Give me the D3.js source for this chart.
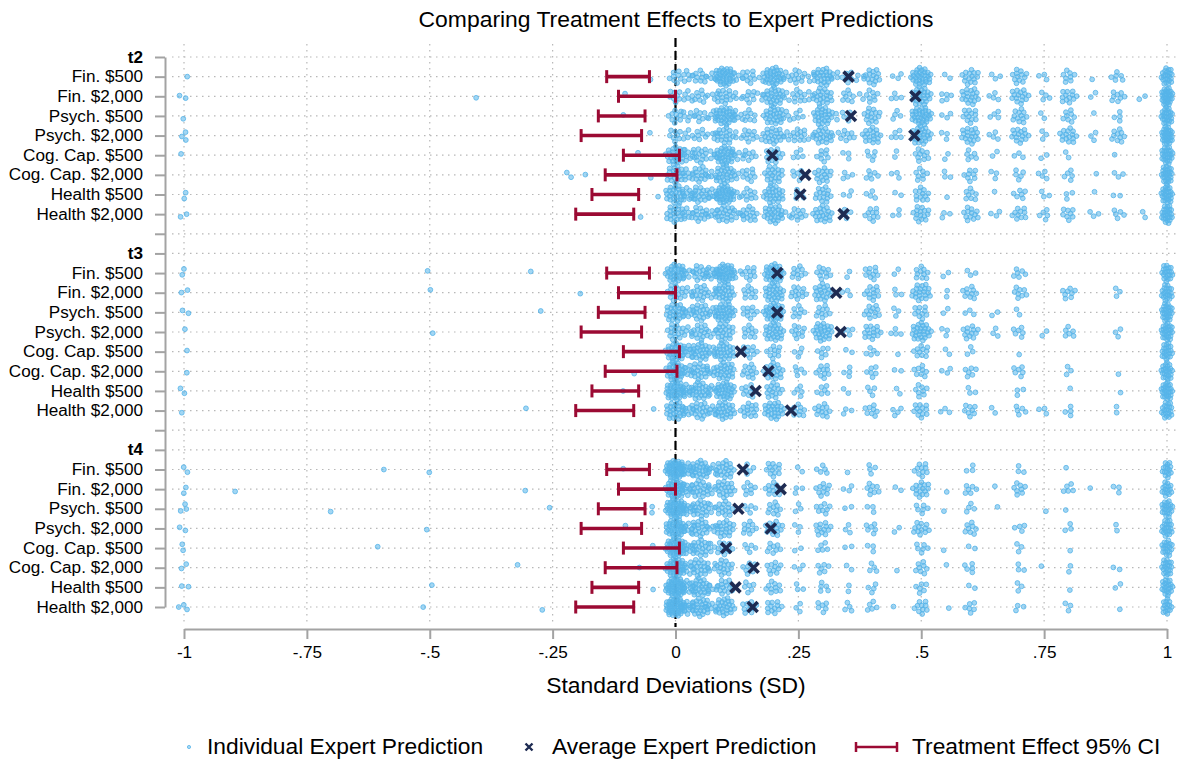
<!DOCTYPE html>
<html>
<head>
<meta charset="utf-8">
<script src="https://cdn.jsdelivr.net/npm/d3@7"></script>
<style>
  body { margin: 0; background: #fff; }
  svg { font-family: "Liberation Sans", Arial, Helvetica, sans-serif; }
</style>
</head>
<body>
<div id="chart"></div>
<script>
// chart size
const width = 1177;
const height = 759;

// row labels for each wave
const panels = ["t2", "t3", "t4"];
const treatments = ["Fin. $500", "Fin. $2,000", "Psych. $500", "Psych. $2,000",
  "Cog. Cap. $500", "Cog. Cap. $2,000", "Health $500", "Health $2,000"];

// treatment effect 95% CI (same for every wave)
const ciLow  = [-0.140, -0.116, -0.157, -0.192, -0.106, -0.143, -0.170, -0.203];
const ciHigh = [-0.053,  0.000, -0.062, -0.069,  0.008,  0.003, -0.075, -0.085];

// average expert prediction, per wave
const avgT2 = [0.352, 0.488, 0.357, 0.486, 0.197, 0.264, 0.254, 0.342];
const avgT3 = [0.207, 0.327, 0.207, 0.336, 0.133, 0.189, 0.163, 0.235];
const avgT4 = [0.137, 0.214, 0.128, 0.194, 0.103, 0.159, 0.122, 0.157];

// individual predictions: [value, number of experts] per row
const predT2 = [
  [[-1,1],[-0.05,1],[0,8],[0.025,6],[0.05,10],[0.075,4],[0.1,35],[0.125,4],[0.15,10],[0.175,3],[0.2,30],[0.225,4],[0.25,10],[0.275,3],[0.3,25],[0.325,3],[0.35,6],[0.375,3],[0.4,15],[0.45,3],[0.5,30],[0.55,2],[0.6,15],[0.65,3],[0.7,12],[0.75,3],[0.8,8],[0.85,1],[0.9,6],[1,22]],
  [[-1,2],[-0.4,1],[-0.1,1],[0,8],[0.025,6],[0.05,8],[0.075,4],[0.1,15],[0.125,3],[0.15,8],[0.175,3],[0.2,25],[0.225,3],[0.25,10],[0.275,3],[0.3,20],[0.35,8],[0.375,2],[0.4,8],[0.45,4],[0.5,25],[0.55,5],[0.6,18],[0.65,4],[0.7,15],[0.75,4],[0.8,12],[0.85,2],[0.9,8],[0.95,2],[1,30]],
  [[-1,1],[-0.1,1],[0,10],[0.025,6],[0.05,8],[0.075,5],[0.1,30],[0.125,6],[0.15,8],[0.2,25],[0.225,4],[0.25,5],[0.3,25],[0.325,2],[0.35,5],[0.4,15],[0.45,4],[0.5,30],[0.55,3],[0.6,12],[0.65,4],[0.7,12],[0.75,2],[0.8,8],[0.85,1],[0.9,4],[1,25]],
  [[-1,3],[-0.05,1],[0,8],[0.025,5],[0.05,7],[0.075,4],[0.1,18],[0.125,3],[0.15,10],[0.175,2],[0.2,20],[0.225,3],[0.25,12],[0.275,2],[0.3,20],[0.325,2],[0.35,8],[0.4,18],[0.45,5],[0.5,25],[0.55,3],[0.6,18],[0.65,4],[0.7,15],[0.75,3],[0.8,15],[0.85,3],[0.9,10],[1,30]],
  [[-1,1],[-0.08,1],[0,25],[0.025,8],[0.05,14],[0.075,4],[0.1,30],[0.125,5],[0.15,8],[0.2,15],[0.25,5],[0.3,8],[0.35,3],[0.4,5],[0.45,2],[0.5,10],[0.55,2],[0.6,6],[0.65,2],[0.7,3],[0.75,2],[0.8,2],[0.9,1],[1,25]],
  [[-0.22,2],[-0.19,1],[-0.05,1],[0,20],[0.025,6],[0.05,16],[0.075,4],[0.1,25],[0.125,3],[0.15,10],[0.2,20],[0.25,6],[0.3,15],[0.35,4],[0.4,6],[0.45,3],[0.5,8],[0.55,3],[0.6,8],[0.65,3],[0.7,5],[0.75,4],[0.8,5],[0.85,1],[0.9,3],[1,25]],
  [[-1,2],[-0.04,1],[0,25],[0.025,10],[0.05,18],[0.075,6],[0.1,35],[0.125,3],[0.15,10],[0.2,25],[0.25,5],[0.3,15],[0.35,3],[0.4,4],[0.45,2],[0.5,12],[0.55,1],[0.6,8],[0.65,1],[0.7,6],[0.75,3],[0.8,3],[0.85,1],[0.9,2],[1,25]],
  [[-1,2],[-0.07,1],[0,20],[0.025,6],[0.05,15],[0.075,5],[0.1,20],[0.125,4],[0.15,15],[0.2,25],[0.225,3],[0.25,10],[0.3,20],[0.35,4],[0.4,10],[0.45,3],[0.5,15],[0.55,3],[0.6,12],[0.65,3],[0.7,10],[0.75,5],[0.8,8],[0.85,3],[0.9,5],[0.95,2],[1,25]]
];
const predT3 = [
  [[-1,2],[-0.5,1],[-0.3,1],[0,30],[0.025,6],[0.05,15],[0.075,10],[0.1,35],[0.125,3],[0.15,10],[0.2,30],[0.25,10],[0.3,10],[0.35,2],[0.4,10],[0.45,2],[0.5,10],[0.55,2],[0.6,3],[0.7,6],[1,20]],
  [[-1,2],[-0.5,1],[-0.2,1],[0,15],[0.025,5],[0.05,15],[0.075,4],[0.1,25],[0.15,10],[0.2,25],[0.25,12],[0.3,20],[0.35,3],[0.4,12],[0.45,3],[0.5,20],[0.55,2],[0.6,10],[0.7,8],[0.8,8],[0.9,3],[1,20]],
  [[-1,2],[-0.28,1],[0,25],[0.025,6],[0.05,20],[0.075,4],[0.1,30],[0.15,10],[0.2,30],[0.25,8],[0.3,10],[0.4,12],[0.45,3],[0.5,10],[0.55,2],[0.6,3],[0.65,2],[0.7,2],[1,25]],
  [[-1,1],[-0.5,1],[0,15],[0.025,5],[0.05,15],[0.075,4],[0.1,20],[0.15,10],[0.2,25],[0.25,10],[0.3,25],[0.35,4],[0.4,15],[0.45,4],[0.5,25],[0.55,3],[0.6,12],[0.65,3],[0.7,6],[0.75,2],[0.8,6],[0.9,3],[1,25]],
  [[-1,1],[0,30],[0.025,8],[0.05,25],[0.075,4],[0.1,25],[0.15,10],[0.2,10],[0.25,4],[0.3,6],[0.35,2],[0.4,5],[0.45,1],[0.5,10],[0.55,2],[0.6,3],[0.7,1],[1,20]],
  [[-1,1],[-0.08,1],[0,30],[0.025,6],[0.05,20],[0.075,4],[0.1,25],[0.15,12],[0.2,20],[0.25,5],[0.3,10],[0.35,4],[0.4,6],[0.45,2],[0.5,8],[0.55,3],[0.6,6],[0.7,6],[0.8,3],[0.9,1],[1,22]],
  [[-1,2],[-0.1,1],[0,35],[0.025,8],[0.05,25],[0.075,4],[0.1,30],[0.15,10],[0.2,15],[0.25,5],[0.3,6],[0.35,2],[0.4,4],[0.45,2],[0.5,8],[0.6,3],[0.7,3],[0.8,1],[0.9,1],[1,25]],
  [[-1,1],[-0.3,1],[-0.05,1],[0,25],[0.025,6],[0.05,20],[0.075,4],[0.1,25],[0.15,15],[0.2,25],[0.25,10],[0.3,12],[0.35,3],[0.4,8],[0.45,4],[0.5,12],[0.55,3],[0.6,8],[0.65,2],[0.7,5],[0.75,3],[0.8,4],[0.9,2],[1,20]]
];
const predT4 = [
  [[-1,2],[-0.6,1],[-0.5,1],[-0.1,1],[0,45],[0.025,10],[0.05,25],[0.075,6],[0.1,20],[0.15,5],[0.2,12],[0.25,2],[0.3,5],[0.35,1],[0.4,4],[0.5,10],[0.6,3],[0.7,3],[0.8,1],[1,15]],
  [[-1,2],[-0.9,1],[-0.3,1],[0,35],[0.025,8],[0.05,20],[0.075,4],[0.1,20],[0.15,8],[0.2,12],[0.25,3],[0.3,10],[0.35,3],[0.4,8],[0.45,2],[0.5,15],[0.55,1],[0.6,6],[0.65,1],[0.7,8],[0.8,5],[0.85,1],[0.9,3],[1,15]],
  [[-1,3],[-0.7,1],[-0.25,1],[-0.05,2],[0,40],[0.025,8],[0.05,20],[0.075,3],[0.1,15],[0.15,5],[0.2,10],[0.25,3],[0.3,8],[0.35,2],[0.4,3],[0.5,6],[0.55,1],[0.6,4],[0.65,1],[0.75,1],[0.8,1],[1,20]],
  [[-1,2],[-0.5,1],[-0.1,1],[0,35],[0.025,8],[0.05,20],[0.075,4],[0.1,20],[0.15,10],[0.2,15],[0.25,3],[0.3,12],[0.35,3],[0.4,6],[0.45,2],[0.5,12],[0.6,8],[0.7,4],[0.8,3],[0.9,2],[1,20]],
  [[-1,2],[-0.6,1],[-0.05,1],[0,40],[0.025,8],[0.05,20],[0.075,3],[0.1,12],[0.15,5],[0.2,8],[0.25,2],[0.3,5],[0.35,2],[0.4,3],[0.5,6],[0.55,1],[0.6,2],[0.7,3],[0.8,1],[1,18]],
  [[-1,2],[-0.32,1],[-0.08,1],[0,35],[0.025,8],[0.05,20],[0.075,3],[0.1,15],[0.15,8],[0.2,10],[0.25,3],[0.3,6],[0.35,2],[0.4,4],[0.45,1],[0.5,8],[0.55,1],[0.6,5],[0.7,3],[0.75,1],[0.8,2],[0.9,2],[1,20]],
  [[-1,2],[-0.5,1],[-0.05,1],[0,45],[0.025,10],[0.05,25],[0.075,4],[0.1,15],[0.15,6],[0.2,10],[0.25,3],[0.3,5],[0.35,2],[0.4,4],[0.5,6],[0.6,2],[0.7,3],[0.8,1],[0.9,2],[1,20]],
  [[-1,3],[-0.52,1],[-0.27,1],[0,45],[0.025,10],[0.05,25],[0.075,4],[0.1,25],[0.15,10],[0.2,12],[0.25,3],[0.3,6],[0.35,4],[0.4,5],[0.45,1],[0.5,10],[0.55,1],[0.6,6],[0.7,3],[0.8,3],[0.9,1],[1,15]]
];

const xTicks = [-1, -0.75, -0.5, -0.25, 0, 0.25, 0.5, 0.75, 1];

const avgByPanel = [avgT2, avgT3, avgT4];
const predByPanel = [predT2, predT3, predT4];

const blue = "#56b4e9";
const navy = "#1e2b52";
const red = "#9b0a33";
const gray = "#a3a3a3";

// the original lettering is a little wider than Liberation Sans
const stretch = 1.07;
function widen(sel) {
  sel.each(function() {
    const w = this.getComputedTextLength();
    d3.select(this).attr("textLength", w * stretch).attr("lengthAdjust", "spacingAndGlyphs");
  });
}

// build the list of y positions: header, 8 rows, spacer
const rowIds = [];
const rowLabel = new Map();
panels.forEach((p, pi) => {
  rowIds.push(p);
  rowLabel.set(p, p);
  treatments.forEach((t, ti) => {
    rowIds.push(p + "_" + ti);
    rowLabel.set(p + "_" + ti, t);
  });
  if (pi < panels.length - 1) {
    rowIds.push("gap" + pi);
    rowLabel.set("gap" + pi, "");
  }
});

const svg = d3.select("#chart")
  .append("svg")
  .attr("width", width)
  .attr("height", height);

const x = d3.scaleLinear().domain([-1, 1]).range([184, 1167]);
const y = d3.scalePoint().domain(rowIds).range([57, 607]);

const plotTop = 40, plotBottom = 625, plotLeft = 172, plotRight = 1177;

// dotted grid
svg.append("g").selectAll("line")
  .data(rowIds)
  .join("line")
  .attr("x1", plotLeft).attr("x2", plotRight)
  .attr("y1", d => y(d)).attr("y2", d => y(d))
  .attr("stroke", "#b8b8b8").attr("stroke-width", 1.2)
  .attr("stroke-dasharray", "1.5,4.5");

svg.append("g").selectAll("line")
  .data(xTicks)
  .join("line")
  .attr("x1", d => x(d)).attr("x2", d => x(d))
  .attr("y1", plotTop + 4).attr("y2", plotBottom)
  .attr("stroke", "#b8b8b8").attr("stroke-width", 1.2)
  .attr("stroke-dasharray", "1.5,4.5");

// zero line
svg.append("line")
  .attr("x1", x(0)).attr("x2", x(0))
  .attr("y1", plotTop - 2).attr("y2", plotBottom + 2)
  .attr("stroke", "#000").attr("stroke-width", 2.2)
  .attr("stroke-dasharray", "9,4");

// individual predictions, spread around each value like a jitter
const points = [];
panels.forEach((p, pi) => {
  predByPanel[pi].forEach((row, ti) => {
    const cy = y(p + "_" + ti);
    row.forEach(([v, n], ci) => {
      const R = Math.min(10.5, 3 + 1.6 * Math.sqrt(n));
      const sx = v === 1 ? 0.55 : 1; // values at the top end pile up narrow
      const phase = ci * 1.7 + ti * 0.9 + pi * 2.3;
      for (let k = 0; k < n; k++) {
        const r = R * Math.sqrt((k + 0.5) / n);
        const a = k * 2.39996 + phase;
        points.push({ px: x(v) + sx * r * Math.cos(a), py: cy + 0.9 * r * Math.sin(a) });
      }
    });
  });
});

svg.append("g").selectAll("circle")
  .data(points)
  .join("circle")
  .attr("cx", d => d.px)
  .attr("cy", d => d.py)
  .attr("r", 2.4)
  .attr("fill", blue)
  .attr("fill-opacity", 0.55)
  .attr("stroke", blue)
  .attr("stroke-opacity", 0.9)
  .attr("stroke-width", 0.9);

// CI bars
const ciRows = [];
panels.forEach(p => treatments.forEach((t, ti) => ciRows.push({ id: p + "_" + ti, lo: ciLow[ti], hi: ciHigh[ti] })));

const ci = svg.append("g").selectAll("g")
  .data(ciRows)
  .join("g")
  .attr("stroke", red);
ci.append("line")
  .attr("x1", d => x(d.lo)).attr("x2", d => x(d.hi))
  .attr("y1", d => y(d.id)).attr("y2", d => y(d.id))
  .attr("stroke-width", 3.6);
ci.append("line")
  .attr("x1", d => x(d.lo)).attr("x2", d => x(d.lo))
  .attr("y1", d => y(d.id) - 6.5).attr("y2", d => y(d.id) + 6.5)
  .attr("stroke-width", 3);
ci.append("line")
  .attr("x1", d => x(d.hi)).attr("x2", d => x(d.hi))
  .attr("y1", d => y(d.id) - 6.5).attr("y2", d => y(d.id) + 6.5)
  .attr("stroke-width", 3);

// average predictions
const avgRows = [];
panels.forEach((p, pi) => avgByPanel[pi].forEach((v, ti) => avgRows.push({ id: p + "_" + ti, v: v })));

svg.append("g").selectAll("path")
  .data(avgRows)
  .join("path")
  .attr("transform", d => `translate(${x(d.v)},${y(d.id)})`)
  .attr("d", "M-5,-5L5,5M-5,5L5,-5")
  .attr("stroke", navy)
  .attr("stroke-width", 3.6)
  .attr("fill", "none");

// y axis
const yAxis = svg.append("g")
  .attr("transform", "translate(165,0)")
  .call(d3.axisLeft(y).tickSize(10).tickSizeOuter(0).tickPadding(12).tickFormat(d => rowLabel.get(d)));
yAxis.select(".domain").attr("stroke", gray).attr("stroke-width", 2);
yAxis.selectAll(".tick line").attr("stroke", gray).attr("stroke-width", 2);
yAxis.selectAll(".tick text")
  .attr("font-size", 16)
  .attr("font-family", "Liberation Sans, Arial, sans-serif")
  .attr("fill", "#000")
  .attr("font-weight", d => panels.includes(d) ? "bold" : "normal")
  .filter(d => rowLabel.get(d) !== "")
  .call(widen);

// x axis
const fmt = d => d === 0 ? "0" : (d === 1 || d === -1) ? String(d) : String(d).replace("0.", ".");
const xAxis = svg.append("g")
  .attr("transform", "translate(0,629)")
  .call(d3.axisBottom(x).tickValues(xTicks).tickSize(10).tickSizeOuter(0).tickPadding(8).tickFormat(fmt));
xAxis.select(".domain").attr("stroke", gray).attr("stroke-width", 2);
xAxis.selectAll(".tick line").attr("stroke", gray).attr("stroke-width", 2);
xAxis.selectAll(".tick text")
  .attr("font-size", 16)
  .attr("font-family", "Liberation Sans, Arial, sans-serif")
  .attr("fill", "#000")
  .call(widen);

// titles
svg.append("text")
  .attr("x", 676).attr("y", 27)
  .attr("text-anchor", "middle")
  .attr("font-size", 21.4)
  .text("Comparing Treatment Effects to Expert Predictions")
  .call(widen);

svg.append("text")
  .attr("x", 676).attr("y", 693)
  .attr("text-anchor", "middle")
  .attr("font-size", 21.4)
  .text("Standard Deviations (SD)")
  .call(widen);

// legend
const legY = 747;
const legend = svg.append("g").attr("font-size", 21.3);
legend.append("circle").attr("cx", 189).attr("cy", legY).attr("r", 1.6)
  .attr("fill", blue).attr("fill-opacity", 0.5).attr("stroke", blue).attr("stroke-width", 0.8);
legend.append("text").attr("x", 207).attr("y", legY + 7).text("Individual Expert Prediction");
legend.append("path").attr("transform", `translate(529,${legY})`)
  .attr("d", "M-3.5,-3.5L3.5,3.5M-3.5,3.5L3.5,-3.5")
  .attr("stroke", navy).attr("stroke-width", 2.4);
legend.append("text").attr("x", 552).attr("y", legY + 7).text("Average Expert Prediction");
const lg = legend.append("g").attr("stroke", red).attr("stroke-width", 2.5);
lg.append("line").attr("x1", 856).attr("x2", 897).attr("y1", legY).attr("y2", legY);
lg.append("line").attr("x1", 856).attr("x2", 856).attr("y1", legY - 5).attr("y2", legY + 5);
lg.append("line").attr("x1", 897).attr("x2", 897).attr("y1", legY - 5).attr("y2", legY + 5);
legend.append("text").attr("x", 912).attr("y", legY + 7).text("Treatment Effect 95% CI");
legend.selectAll("text").call(widen);
</script>
</body>
</html>
